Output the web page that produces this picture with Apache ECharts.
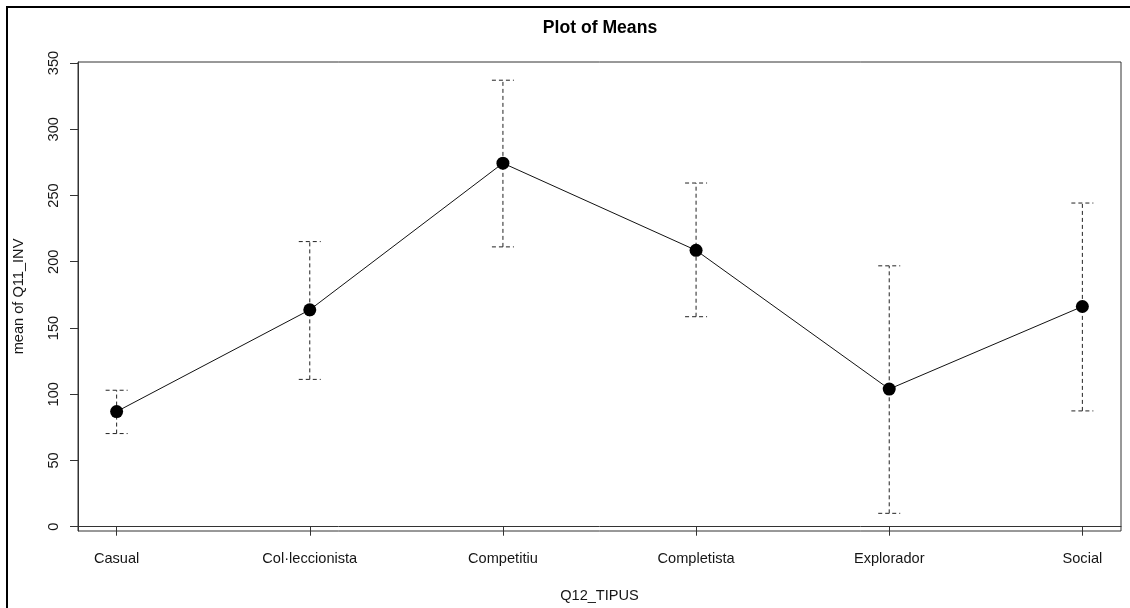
<!DOCTYPE html>
<html>
<head>
<meta charset="utf-8">
<script src="https://cdn.jsdelivr.net/npm/echarts@6/dist/echarts.min.js"></script>
<style>
  html, body { margin: 0; padding: 0; background: #fff; overflow: hidden; }
  #chart { width: 1130px; height: 608px; }
</style>
</head>
<body>
<div id="chart"></div>
<script>
// ---- data ----
const categories = ['Casual', 'Col·leccionista', 'Competitiu', 'Completista', 'Explorador', 'Social'];
const means = [86.9, 163.7, 274.4, 208.6, 103.9, 166.2];
const upperBounds = [103.0, 215.2, 337.0, 259.4, 196.9, 244.3];
const lowerBounds = [70.3, 111.2, 211.2, 158.5, 10.1, 87.4];
const yTicks = [0, 50, 100, 150, 200, 250, 300, 350];
const xTicks = [1, 2, 3, 4, 5, 6];

const FONT = '"Liberation Sans", Arial, sans-serif';
const TXT = '#151515';

const chart = echarts.init(document.getElementById('chart'), null, { renderer: 'canvas' });

const meanData = means.map((v, i) => [i + 1, v]);
const errData = means.map((v, i) => [i + 1, lowerBounds[i], upperBounds[i]]);

const option = {
  backgroundColor: '#fff',
  animation: false,
  title: {
    text: 'Plot of Means',
    left: 595,
    top: 14,
    textAlign: 'center',
    textStyle: { fontFamily: FONT, fontWeight: 'bold', fontSize: 17.6, color: '#000' }
  },
  graphic: [{
    type: 'rect',
    shape: { x: 7, y: 7, width: 1140, height: 620 },
    style: { fill: null, stroke: '#000', lineWidth: 2 },
    silent: true,
    z: 100
  }],
  grid: {
    left: 78, right: 9, top: 62, bottom: 73,
    show: true, borderColor: '#333', borderWidth: 1,
    containLabel: false
  },
  xAxis: {
    type: 'value',
    min: 0.8, max: 6.2,
    name: 'Q12_TIPUS',
    nameLocation: 'middle',
    nameGap: 57,
    nameTextStyle: { fontFamily: FONT, fontSize: 14.6, color: TXT },
    axisLine: { show: true, lineStyle: { color: '#333', width: 1 } },
    axisTick: { show: true, length: 9, customValues: xTicks, lineStyle: { color: '#333' } },
    axisLabel: {
      customValues: xTicks,
      margin: 20,
      fontFamily: FONT, fontSize: 14.6, color: TXT,
      formatter: v => categories[Math.round(v) - 1] || ''
    },
    splitLine: { show: false }
  },
  yAxis: {
    type: 'value',
    min: -3.24, max: 350.75,
    name: 'mean of Q11_INV',
    nameLocation: 'middle',
    nameGap: 52,
    nameRotate: 90,
    nameTextStyle: { fontFamily: FONT, fontSize: 14.6, color: TXT },
    axisLine: { show: true, lineStyle: { color: '#333', width: 1 } },
    axisTick: { show: true, length: 8, customValues: yTicks, lineStyle: { color: '#333' } },
    axisLabel: {
      customValues: yTicks,
      rotate: 90,
      margin: 17,
      fontFamily: FONT, fontSize: 14.6, color: TXT
    },
    splitLine: { show: false }
  },
  series: [
    {
      type: 'custom',
      name: 'err',
      data: errData,
      z: 2,
      renderItem: function (params, api) {
        const x = api.value(0);
        const lo = api.coord([x, api.value(1)]);
        const hi = api.coord([x, api.value(2)]);
        const hw = 11;
        const style = { stroke: '#222', lineWidth: 1, lineDash: [4, 3], fill: null };
        return {
          type: 'group',
          children: [
            { type: 'line', shape: { x1: lo[0], y1: lo[1], x2: hi[0], y2: hi[1] }, style: style },
            { type: 'line', shape: { x1: hi[0] - hw, y1: hi[1], x2: hi[0] + hw, y2: hi[1] }, style: style },
            { type: 'line', shape: { x1: lo[0] - hw, y1: lo[1], x2: lo[0] + hw, y2: lo[1] }, style: style }
          ]
        };
      }
    },
    {
      type: 'line',
      name: 'mean',
      data: meanData,
      z: 3,
      symbol: 'circle',
      symbolSize: 13,
      lineStyle: { color: '#111', width: 1 },
      itemStyle: { color: '#000' }
    }
  ]
};

chart.setOption(option);
</script>
</body>
</html>
